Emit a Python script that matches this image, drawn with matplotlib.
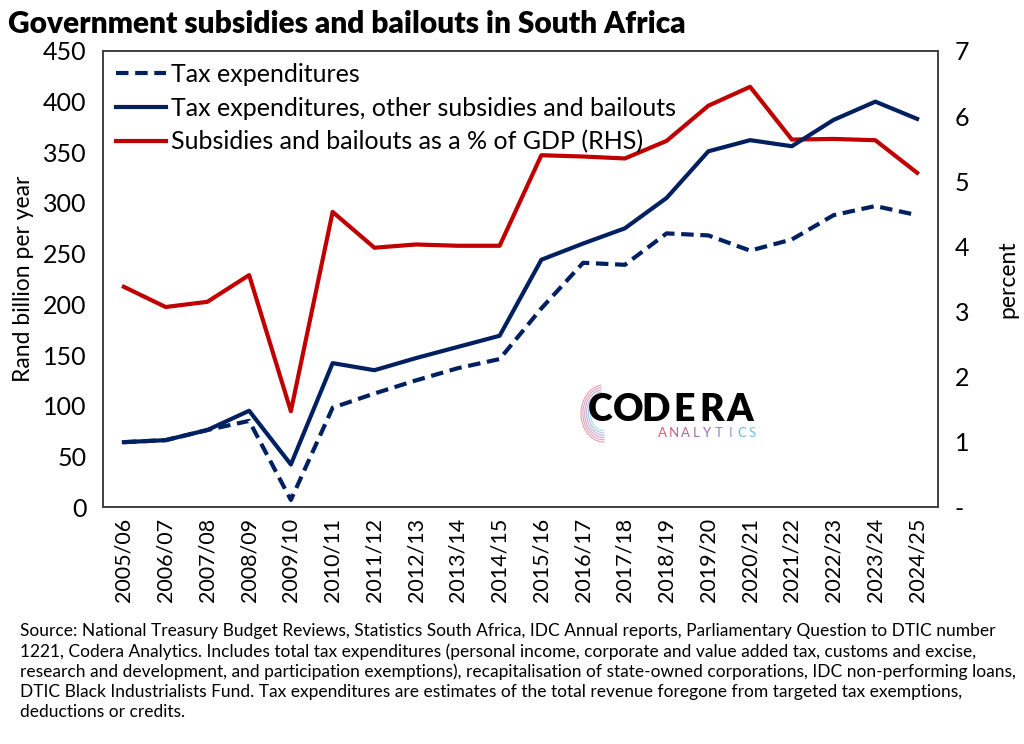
import matplotlib.pyplot as plt
import numpy as np
from matplotlib.colors import LinearSegmentedColormap
from matplotlib.ticker import FuncFormatter

plt.rcParams['font.family'] = ['Lato', 'DejaVu Sans']

years = ['2005/06', '2006/07', '2007/08', '2008/09', '2009/10', '2010/11',
         '2011/12', '2012/13', '2013/14', '2014/15', '2015/16', '2016/17',
         '2017/18', '2018/19', '2019/20', '2020/21', '2021/22', '2022/23',
         '2023/24', '2024/25']

# Rand billion per year
tax_exp = [64, 66, 76, 85, 7, 98, 112, 125, 137, 146, 196, 241,
           239, 270, 268, 253, 264, 288, 297, 288]
tax_exp_total = [64, 66, 76, 95, 42, 142, 135, 147, 158, 169, 244, 260,
                 275, 305, 351, 362, 356, 382, 400, 383]
# percent of GDP (right axis)
pct_gdp = [3.38, 3.07, 3.15, 3.56, 1.47, 4.53, 3.98, 4.03, 4.01, 4.01,
           5.40, 5.38, 5.35, 5.62, 6.16, 6.45, 5.64, 5.65, 5.63, 5.13]

navy = '#002060'
red = '#C00000'
logo_cmap = LinearSegmentedColormap.from_list('codera', ['#e05a6e', '#9a6fb8', '#6cc8e4'])

fig = plt.figure(figsize=(10.24, 7.44), dpi=100)
ax = fig.add_axes([0.1006, 0.3185, 0.8154, 0.613])
ax2 = ax.twinx()

x = np.arange(len(years))
l1, = ax.plot(x, tax_exp, color=navy, lw=3, ls=(0, (3, 1.6)),
              label='Tax expenditures')
l2, = ax.plot(x, tax_exp_total, color=navy, lw=3,
              label='Tax expenditures, other subsidies and bailouts')
l3, = ax2.plot(x, pct_gdp, color=red, lw=3,
               label='Subsidies and bailouts as a % of GDP (RHS)')
ax.set_zorder(ax2.get_zorder() + 1)
ax.patch.set_visible(False)

ax.set_xlim(-0.5, len(years) - 0.5)
ax.set_ylim(0, 450)
ax.set_yticks(range(0, 451, 50))
ax2.set_ylim(0, 7)
ax2.set_yticks(range(0, 8))
ax2.yaxis.set_major_formatter(FuncFormatter(lambda v, p: '-' if v == 0 else f'{v:.0f}'))

ax.set_xticks(x)
ax.set_xticklabels(years, rotation=90, fontsize=15.5)
ax.tick_params(axis='y', labelsize=18, length=0, pad=12)
ax.tick_params(axis='x', length=0, pad=8)
ax2.tick_params(axis='y', labelsize=18, length=0, pad=12)

for a in (ax, ax2):
    for s in a.spines.values():
        s.set_color('#404040')
        s.set_linewidth(1.2)

ax.set_ylabel('Rand billion per year', fontsize=16.5, labelpad=6)
ax2.set_ylabel('percent', fontsize=16.5, labelpad=20)

ax.legend(handles=[l1, l2, l3], loc='upper left', frameon=False, fontsize=18,
          handlelength=2.0, handletextpad=0.2, borderaxespad=0.0,
          labelspacing=0.42, bbox_to_anchor=(0.004, 0.995))

fig.text(0.008, 0.968, 'Government subsidies and bailouts in South Africa',
         fontsize=21.5, fontweight='heavy', va='center', ha='left')

# logo
for i, ch in enumerate('CODERA'):
    ax.text(0.595 + i * 0.0335, 0.213, ch, transform=ax.transAxes, fontsize=27,
            fontweight='heavy', color='black', ha='center', va='center')
logo_cols = logo_cmap(np.linspace(0, 1, 9))
for i, ch in enumerate('ANALYTICS'):
    ax.text(0.67 + i * 0.0135, 0.162, ch, transform=ax.transAxes, fontsize=9.5,
            color=logo_cols[i], ha='center', va='center')
th = np.linspace(0.55 * np.pi, 1.5 * np.pi, 40)
for i, r in enumerate(np.linspace(0.03, 0.05, 6)):
    ax.plot(0.6 + r * np.cos(th) * 0.55, 0.205 + r * np.sin(th) * 1.25,
            transform=ax.transAxes, color=logo_cmap(1 - i / 5), lw=0.8, alpha=0.6)

source = ('Source: National Treasury Budget Reviews, Statistics South Africa, IDC Annual reports, '
          'Parliamentary Question to DTIC number\n'
          '1221, Codera Analytics. Includes total tax expenditures (personal income, corporate '
          'and value added tax, customs and excise,\n'
          'research and development, and participation exemptions), recapitalisation of '
          'state-owned corporations, IDC non-performing loans,\n'
          'DTIC Black Industrialists Fund. Tax expenditures are estimates of the total revenue '
          'foregone from targeted tax exemptions,\n'
          'deductions or credits.')
fig.text(0.02, 1 - 623 / 744, source, fontsize=12.5, va='top', ha='left',
         linespacing=1.3)

fig.savefig('out.png', dpi=100)
